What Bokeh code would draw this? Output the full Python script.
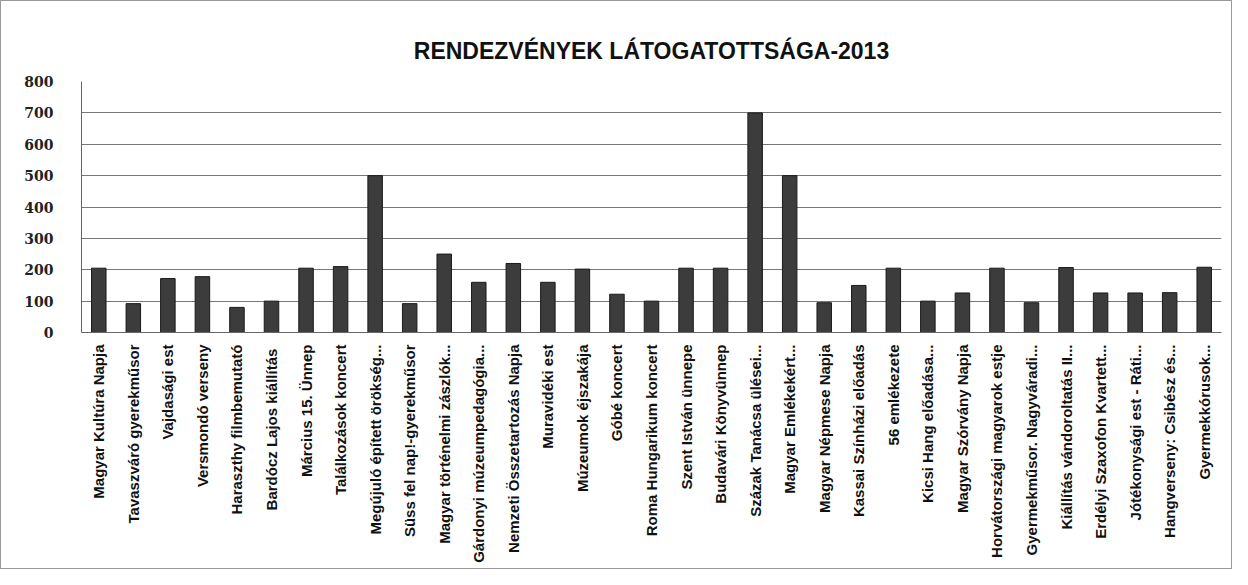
from bokeh.plotting import figure
from bokeh.models import FactorRange
from bokeh.embed import file_html
from bokeh.resources import INLINE
from math import pi

categories = ["Magyar Kultúra Napja", "Tavaszváró gyerekműsor", "Vajdasági est", "Versmondó verseny",
              "Haraszthy filmbemutató", "Bardócz Lajos  kiállítás", "Március 15. Ünnep", "Találkozások koncert",
              "Megújuló épített örökség...", "Süss fel nap!-gyerekműsor", "Magyar történelmi zászlók...",
              "Gárdonyi múzeumpedagógia...", "Nemzeti Összetartozás Napja", "Muravidéki est",
              "Múzeumok éjszakája", "Góbé koncert", "Roma Hungarikum koncert", "Szent István ünnepe",
              "Budavári Könyvünnep", "Százak Tanácsa ülései...", "Magyar Emlékekért...",
              "Magyar Népmese Napja", "Kassai Színházi előadás", "56 emlékezete", "Kicsi Hang előadása...",
              "Magyar Szórvány Napja", "Horvátországi magyarok estje", "Gyermekműsor. Nagyváradi...",
              "Kiállítás vándoroltatás II...", "Erdélyi Szaxofon Kvartett...", "Jótékonysági est - Ráti...",
              "Hangverseny: Csibész és...", "Gyermekkórusok..."]
visitors = [205, 92, 172, 178, 80, 100, 205, 210, 500, 92, 250, 160, 220, 160, 202, 122, 100, 205,
            205, 700, 500, 95, 150, 205, 100, 126, 205, 95, 207, 126, 126, 127, 208]
y_ticks = [0, 100, 200, 300, 400, 500, 600, 700, 800]
title_text = "RENDEZVÉNYEK LÁTOGATOTTSÁGA-2013"

p = figure(width=1232, height=569, output_backend="svg", toolbar_location=None,
           x_range=FactorRange(*categories, range_padding=0), y_range=(0, 800),
           min_border_left=80, min_border_right=12, min_border_top=80, min_border_bottom=238)
p.styles = {"border": "1px solid #999999", "box-sizing": "border-box"}

p.title.text = title_text
p.title.align = "center"
p.title.text_font = "Liberation Sans"
p.title.text_font_style = "bold"
p.title.text_font_size = "23px"
p.title.text_color = "#111111"
p.title.standoff = 36
p.title.offset = -52

p.vbar(x=categories, top=visitors, width=0.42, fill_color="#3c3c3c", line_color="#1a1a1a", line_width=1)

p.yaxis.ticker = y_ticks
p.yaxis.major_label_text_font = "DejaVu Serif"
p.yaxis.major_label_text_font_style = "bold"
p.yaxis.major_label_text_font_size = "14px"
p.yaxis.major_label_text_color = "#222222"
p.yaxis.major_tick_line_color = None
p.yaxis.minor_tick_line_color = None
p.yaxis.major_label_standoff = 22
p.yaxis.axis_line_color = "#666666"

p.xaxis.major_label_orientation = pi / 2
p.xaxis.major_label_text_font = "Liberation Sans"
p.xaxis.major_label_text_font_style = "bold"
p.xaxis.major_label_text_font_size = "15px"
p.xaxis.major_label_text_color = "#111111"
p.xaxis.major_tick_line_color = None
p.xaxis.axis_line_color = "#666666"
p.xaxis.major_label_standoff = 6

p.xgrid.grid_line_color = None
p.ygrid.grid_line_color = "#777777"
p.ygrid.grid_line_width = 1
p.outline_line_color = None

open("out.html", "w").write(file_html(p, INLINE))
